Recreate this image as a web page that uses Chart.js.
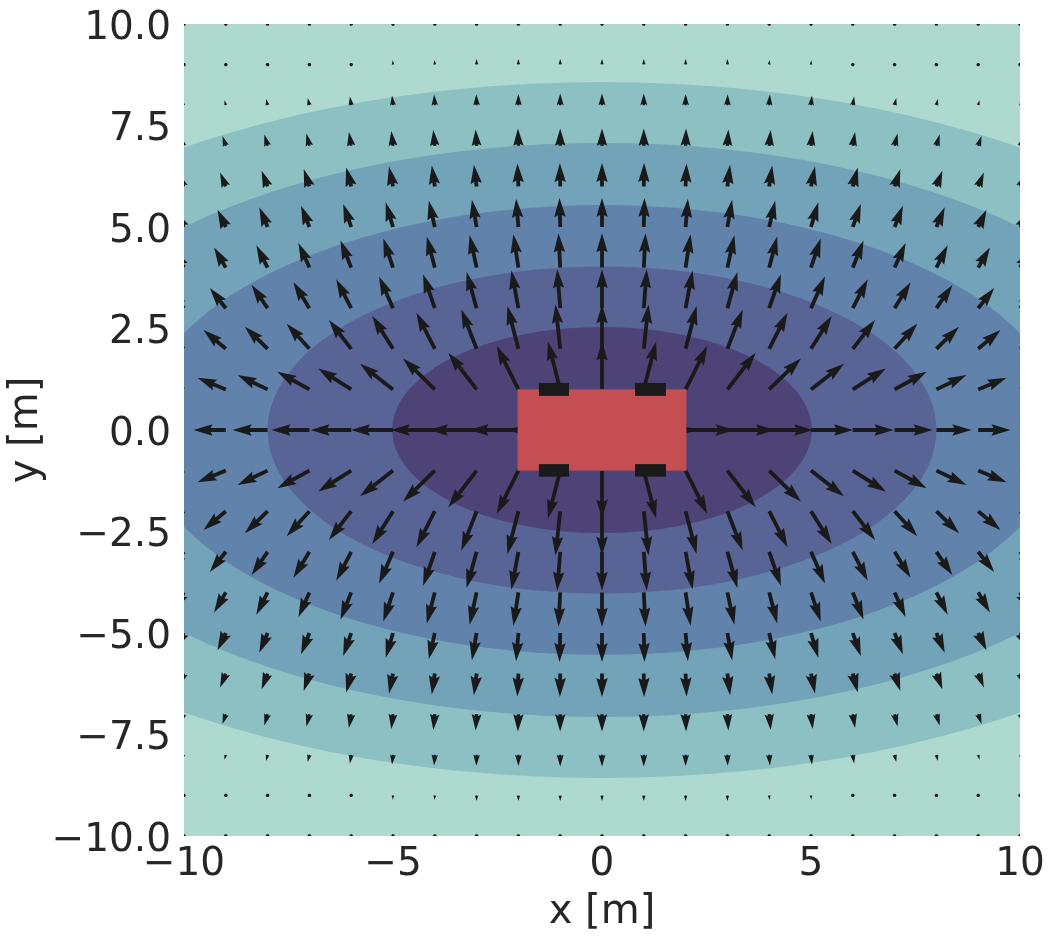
<!DOCTYPE html>
<html>
<head>
<meta charset="utf-8">
<style>html,body{margin:0;padding:0;background:#fff}canvas{display:block}</style>
<script src="https://cdn.jsdelivr.net/npm/chart.js@4/dist/chart.umd.min.js"></script>
</head>
<body>
<canvas id="c" width="1053" height="938"></canvas>
<script>
// Contour bands: outermost background + nested ellipses (semi-axes in metres)
const bandColors = ['#AED9CF','#8DC0C3','#73A3B8','#6182AB','#586396','#4E4376'];
const contourA = [17.14, 14.14, 11.08, 8.0, 5.02];
const contourB = [8.57, 7.07, 5.54, 4.03, 2.54];
// Vehicle body and tyres (metres)
const carBody = {x0:-2.02, x1:2.02, y0:-1, y1:1};
const tyreX = [[-1.51,-0.79],[0.79,1.53]];
const tyreY = [[0.84,1.16],[-1.15,-0.84]];
// Quiver grid
const gridX = [-10,-9,-8,-7,-6,-5,-4,-3,-2,-1,0,1,2,3,4,5,6,7,8,9,10];
const gridY = [-10,-9,-8,-7,-6,-5,-4,-3,-2,-1,0,1,2,3,4,5,6,7,8,9,10];
// |u|,|v| read per quadrant: row = |y| 0..10, column = |x| 0..10
const quadU = [
 [0,53,49,47.7,44,42,40.7,38,35,32.3,29],
 [0,12.3,21.7,28.3,31.7,33,33,32,30,28.3,26],
 [0,4.7,11,15.3,18.3,20.7,22.3,22.7,22.7,22.3,21],
 [0,3,7,10,11.7,14,15,16,16,16,15],
 [0,1.7,5,7,8,9.7,10.7,11,11.3,11.7,11],
 [0,.7,2.3,4.7,6,7.3,8,8.3,8.3,8.3,8],
 [0,.3,1,2.7,3,4,5,5.7,6,5.7,5],
 [0,0,.5,1,1.5,1.7,2.3,3,3.3,3.3,3],
 [0,0,0,.3,.7,1,1.3,1.7,1.5,1.3,1],
 [0,0,0,0,.3,.3,.3,0,0,0,0],
 [0,0,0,0,0,0,0,0,0,0,0]
];
const quadV = [
 [0,0,0,0,0,0,0,0,0,0,0],
 [48,48,43.3,36.7,31,25.7,21,17.7,14.3,11.7,10],
 [44.3,44.3,42.7,39.3,36,32.7,28.7,25,22,18.7,16],
 [39,39,37.7,36.3,34,31.7,29,26,23.3,20.3,18],
 [34.3,34.3,33.3,32.3,31,29,27,24.7,22.3,20,18],
 [29,29,28.3,27.3,26.3,24.7,23,21.3,19.7,17.3,15],
 [23.3,23.3,23,21.7,21,20,19,17.3,15.7,14,12],
 [17.3,17.3,17.3,16.3,15.7,14.7,13.7,12.3,11.3,9.7,8],
 [11.7,11.7,11.3,11,10.7,9.7,8.7,7.3,6.3,5,4],
 [5.7,5.7,5.7,5.7,4.7,4.3,3.3,.5,.5,.5,.5],
 [.5,.5,.5,.5,.5,.5,.5,.5,.5,.5,.5]
];
const xTicks = [-10,-5,0,5,10];
const yTicks = [-10,-7.5,-5,-2.5,0,2.5,5,7.5,10];
const xTitle = 'x [m]', yTitle = 'y [m]';
const textColor = '#262626', arrowColor = '#1A1A1A', carColor = '#C44E52', tyreColor = '#1A1A1A';

const arrowPoints = [];
gridY.forEach(y => gridX.forEach(x => {
  const ax = Math.abs(x), ay = Math.abs(y);
  arrowPoints.push({x, y, u: Math.sign(x)*quadU[ay][ax], v: Math.sign(y)*quadV[ay][ax]});
}));

// Arrow polygon follows the usual quiver geometry (shaft width w)
function drawArrow(ctx, px, py, u, v, w) {
  const hl = 5, hal = 4.5, hw = 3, minsh = 5;
  const L = Math.hypot(u, v) / w;
  ctx.save();
  ctx.translate(px, py);
  if (L < 1) {
    ctx.beginPath();
    for (let i = 0; i < 6; i++) {
      const t = i * Math.PI / 3;
      ctx.lineTo(Math.cos(t) * w / 2, Math.sin(t) * w / 2);
    }
    ctx.closePath(); ctx.fill(); ctx.restore(); return;
  }
  ctx.rotate(Math.atan2(-v, u));
  let xs, s = 1;
  if (L < minsh) { xs = [0, minsh - hal, minsh - hl, minsh]; s = L / minsh; }
  else { xs = [0, L - hal, L - hl, L]; }
  const ys = [.5, .5, hw / 2, 0];
  ctx.beginPath();
  ctx.moveTo(xs[0]*s*w, ys[0]*s*w);
  ctx.lineTo(xs[1]*s*w, ys[1]*s*w);
  ctx.lineTo(xs[2]*s*w, ys[2]*s*w);
  ctx.lineTo(xs[3]*s*w, 0);
  ctx.lineTo(xs[2]*s*w, -ys[2]*s*w);
  ctx.lineTo(xs[1]*s*w, -ys[1]*s*w);
  ctx.lineTo(xs[0]*s*w, -ys[0]*s*w);
  ctx.closePath();
  ctx.fill();
  ctx.restore();
}

const fieldPlugin = {
  id: 'field',
  beforeDatasetsDraw(chart) {
    const {ctx, chartArea: a, scales: {x, y}} = chart;
    ctx.save();
    ctx.beginPath(); ctx.rect(a.left, a.top, a.right - a.left, a.bottom - a.top); ctx.clip();
    ctx.fillStyle = bandColors[0];
    ctx.fillRect(a.left, a.top, a.right - a.left, a.bottom - a.top);
    const cx = x.getPixelForValue(0), cy = y.getPixelForValue(0);
    contourA.forEach((ra, i) => {
      ctx.fillStyle = bandColors[i + 1];
      ctx.beginPath();
      ctx.ellipse(cx, cy, x.getPixelForValue(ra) - cx, cy - y.getPixelForValue(contourB[i]), 0, 0, Math.PI * 2);
      ctx.fill();
    });
    ctx.restore();
  },
  afterDatasetsDraw(chart) {
    const {ctx, chartArea: a, scales: {x, y}} = chart;
    ctx.save();
    ctx.beginPath(); ctx.rect(a.left, a.top, a.right - a.left, a.bottom - a.top); ctx.clip();
    ctx.fillStyle = arrowColor;
    const meta = chart.getDatasetMeta(0);
    meta.data.forEach((el, i) => {
      const p = arrowPoints[i];
      drawArrow(ctx, el.x, el.y, p.u, p.v, 3.8);
    });
    ctx.fillStyle = carColor;
    const rect = (x0, x1, y0, y1) => {
      const l = x.getPixelForValue(x0), r = x.getPixelForValue(x1);
      const t = y.getPixelForValue(y1), b = y.getPixelForValue(y0);
      ctx.fillRect(l, t, r - l, b - t);
    };
    rect(carBody.x0, carBody.x1, carBody.y0, carBody.y1);
    ctx.fillStyle = tyreColor;
    tyreX.forEach(tx => tyreY.forEach(ty => rect(tx[0], tx[1], ty[0], ty[1])));
    ctx.restore();
  }
};

const fmtMinus = s => String(s).replace('-', '\u2212');
const tickFont = {family: '"DejaVu Sans"', size: 39};
const titleFont = {family: '"DejaVu Sans"', size: 40};

new Chart(document.getElementById('c'), {
  type: 'scatter',
  data: {datasets: [{label: 'field', data: arrowPoints, pointRadius: 0, pointHoverRadius: 0, showLine: false}]},
  options: {
    responsive: false,
    animation: false,
    events: [],
    layout: {padding: {left: 0, top: 24, right: 33, bottom: 0}},
    plugins: {legend: {display: false}, tooltip: {enabled: false}},
    scales: {
      x: {
        type: 'linear', min: -10, max: 10,
        afterBuildTicks(s) { s.ticks = xTicks.map(v => ({value: v})); },
        afterFit(s) { s.height = 102; s.paddingLeft = 0; s.paddingRight = 0; },
        grid: {display: false, drawTicks: false},
        border: {display: false},
        ticks: {color: textColor, font: tickFont, padding: 5, maxRotation: 0, autoSkip: false,
                callback: v => fmtMinus(v)},
        title: {display: true, text: xTitle, color: textColor, font: titleFont, padding: {top: 0, bottom: 1}}
      },
      y: {
        type: 'linear', min: -10, max: 10,
        afterBuildTicks(s) { s.ticks = yTicks.map(v => ({value: v})); },
        afterFit(s) { s.width = 184; s.paddingTop = 0; s.paddingBottom = 0; },
        grid: {display: false, drawTicks: false},
        border: {display: false},
        ticks: {color: textColor, font: tickFont, padding: 13, labelOffset: 4.5, autoSkip: false,
                callback: v => fmtMinus(v.toFixed(1))},
        title: {display: true, text: yTitle, color: textColor, font: titleFont, padding: {top: 3, bottom: 0}}
      }
    }
  },
  plugins: [fieldPlugin]
});
</script>
</body>
</html>
